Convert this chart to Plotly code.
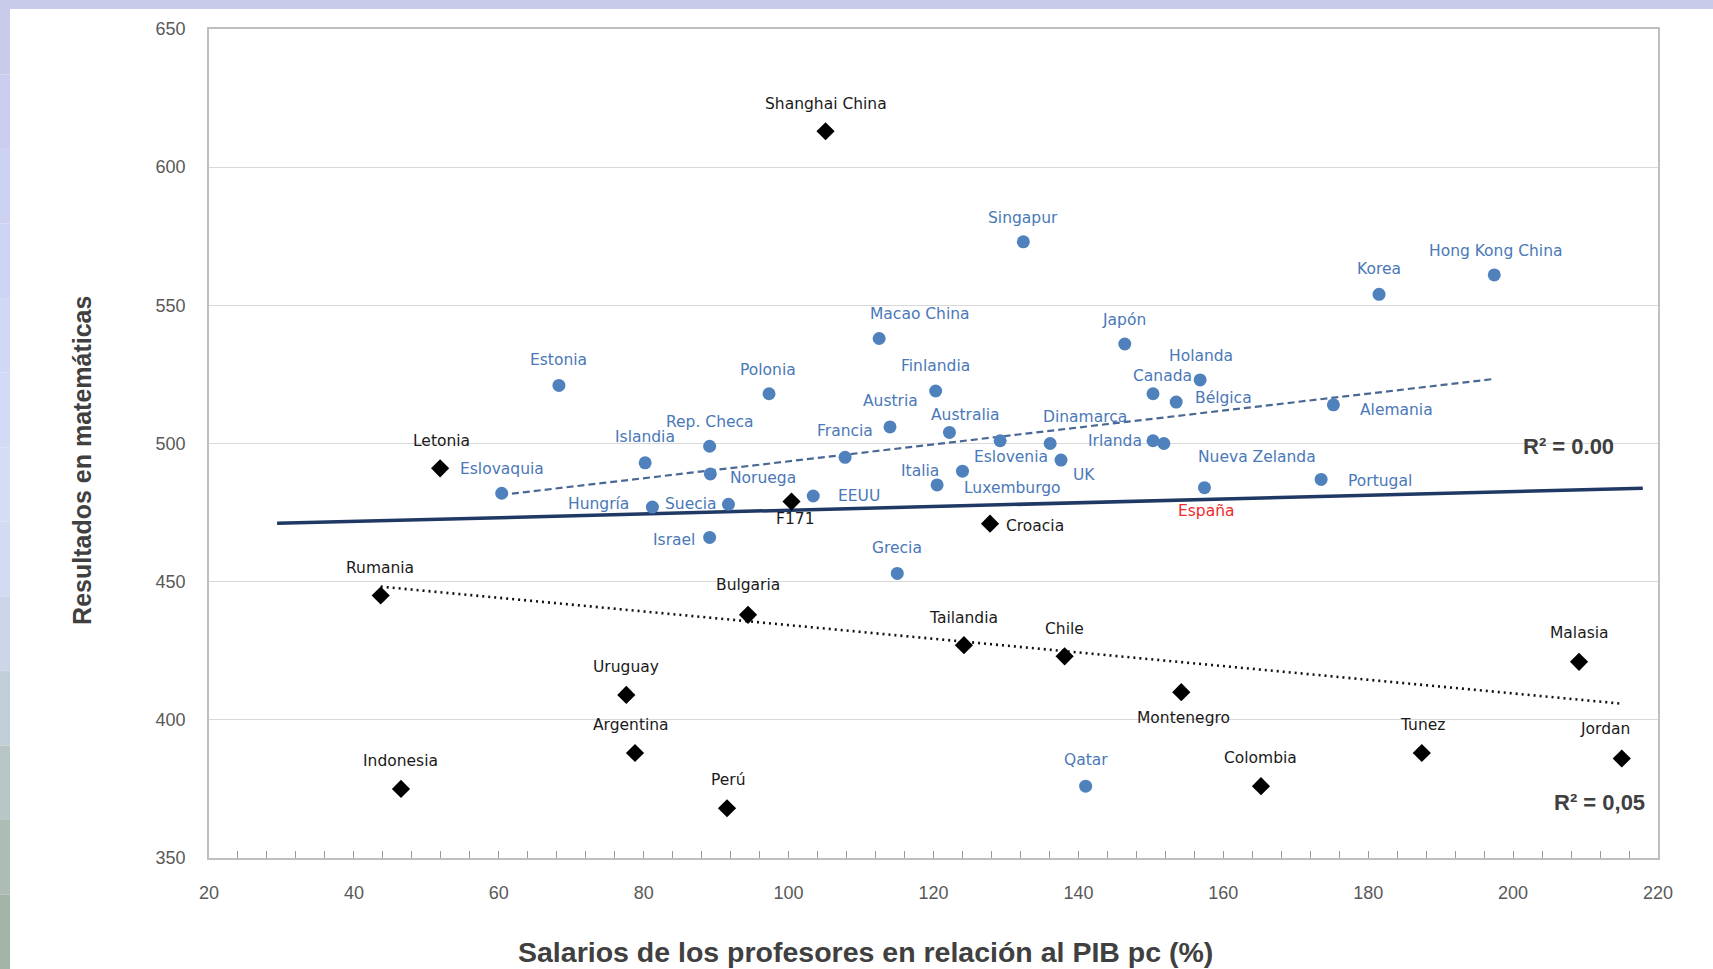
import plotly.graph_objects as go

# ---------------- data ----------------
oecd_names = ["Singapur", "Hong Kong China", "Korea", "Macao China", "Japón", "Holanda",
              "Canada", "Bélgica", "Alemania", "Estonia", "Polonia", "Finlandia", "Austria",
              "Australia", "Francia", "Rep. Checa", "Islandia", "Noruega", "Eslovaquia",
              "Hungría", "Suecia", "Israel", "EEUU", "Italia", "Luxemburgo", "Eslovenia",
              "Dinamarca", "UK", "Irlanda", "Nueva Zelanda", "España", "Portugal", "Grecia",
              "Qatar"]
oecd_x = [132.4, 197.4, 181.5, 112.5, 146.4, 156.8, 150.3, 153.5, 175.2, 68.3, 97.3, 120.3,
          114.0, 122.2, 107.8, 89.1, 80.2, 89.2, 60.4, 81.2, 91.7, 89.1, 103.4, 120.5,
          124.0, 129.2, 136.1, 137.6, 150.3, 151.8, 157.4, 173.5, 115.0, 141.0]
oecd_y = [573, 561, 554, 538, 536, 523, 518, 515, 514, 521, 518, 519, 506, 504, 495, 499,
          493, 489, 482, 477, 478, 466, 481, 485, 490, 501, 500, 494, 501, 500, 484, 487,
          453, 376]

partner_names = ["Shanghai China", "Letonia", "F171", "Croacia", "Rumania", "Bulgaria",
                 "Tailandia", "Chile", "Malasia", "Uruguay", "Montenegro", "Argentina",
                 "Tunez", "Jordan", "Indonesia", "Colombia", "Perú"]
partner_x = [105.1, 51.9, 100.4, 127.8, 43.7, 94.4, 124.2, 138.1, 209.1, 77.6, 154.2, 78.8,
             187.4, 215.0, 46.5, 165.2, 91.5]
partner_y = [613, 491, 479, 471, 445, 438, 427, 423, 421, 409, 410, 388, 388, 386, 375,
             376, 368]

# trend lines (end points)
trend_all_x = [29.4, 217.9]
trend_all_y = [471.1, 483.8]
trend_oecd_x = [60.3, 197.5]
trend_oecd_y = [481.4, 523.4]
trend_partner_x = [43.7, 215.2]
trend_partner_y = [448.2, 405.8]

r2_texts = ["R² = 0.00", "R² = 0,05"]

x_ticks = [20, 40, 60, 80, 100, 120, 140, 160, 180, 200, 220]
y_ticks = [350, 400, 450, 500, 550, 600, 650]

x_title = "Salarios de los profesores en relación al PIB pc (%)"
y_title = "Resultados en matemáticas"

# ---------------- styling / placement ----------------
W, H = 1713, 969
ML, MR, MT, MB = 209, 55, 29, 111
PW, PH = W - ML - MR, H - MT - MB
S = 1.0925  # label offsets below measured in a reduced view


def px2paper_x(px):
    return (px - ML) / PW


def px2paper_y(py):
    return (H - MB - py) / PH


# label offsets (dx, dy) relative to the marker, dy positive = downward
oecd_off = {
    "Singapur": (0, -22), "Hong Kong China": (1, -22), "Korea": (0, -23),
    "Macao China": (37, -22), "Japón": (-1, -22), "Holanda": (1, -22),
    "Canada": (9, -16), "Bélgica": (43, -4), "Alemania": (58, 5), "Estonia": (0, -23),
    "Polonia": (-1, -22), "Finlandia": (0, -23), "Austria": (0, -24),
    "Australia": (15, -16), "Francia": (0, -24), "Rep. Checa": (0, -22),
    "Islandia": (0, -24), "Noruega": (48, 4), "Eslovaquia": (0, -22),
    "Hungría": (-49, -3), "Suecia": (-34, 0), "Israel": (-33, 2), "EEUU": (42, 0),
    "Italia": (-16, -13), "Luxemburgo": (46, 15), "Eslovenia": (10, 15),
    "Dinamarca": (32, -24), "UK": (21, 14), "Irlanda": (-35, 0),
    "Nueva Zelanda": (85, 12), "España": (2, 21), "Portugal": (54, 1),
    "Grecia": (0, -23), "Qatar": (0, -24),
}
partner_off = {
    "Shanghai China": (0, -25), "Letonia": (1, -25), "F171": (4, 16),
    "Croacia": (41, 2), "Rumania": (-1, -25), "Bulgaria": (0, -27),
    "Tailandia": (0, -25), "Chile": (0, -25), "Malasia": (0, -26),
    "Uruguay": (0, -26), "Montenegro": (2, 24), "Argentina": (-4, -26),
    "Tunez": (1, -26), "Jordan": (-15, -27), "Indonesia": (0, -26),
    "Colombia": (0, -26), "Perú": (1, -26),
}

BLUE = "#4f81bd"
BLUE_TXT = "#4a78b8"
LABEL_FONT = "DejaVu Sans"
LABEL_SIZE = 15.5

fig = go.Figure()

# trend lines
fig.add_trace(go.Scatter(x=trend_all_x, y=trend_all_y, mode="lines",
                         line=dict(color="#1f3864", width=3.5), hoverinfo="skip",
                         showlegend=False))
fig.add_trace(go.Scatter(x=trend_oecd_x, y=trend_oecd_y, mode="lines",
                         line=dict(color="#4a6894", width=2.2, dash="7px,4px"),
                         hoverinfo="skip", showlegend=False))
fig.add_trace(go.Scatter(x=trend_partner_x, y=trend_partner_y, mode="lines",
                         line=dict(color="#111111", width=2.6, dash="2px,4px"),
                         hoverinfo="skip", showlegend=False))

# points
fig.add_trace(go.Scatter(x=oecd_x, y=oecd_y, mode="markers", text=oecd_names,
                         marker=dict(symbol="circle", size=13, color=BLUE),
                         showlegend=False))
fig.add_trace(go.Scatter(x=partner_x, y=partner_y, mode="markers", text=partner_names,
                         marker=dict(symbol="diamond", size=14, color="#000000"),
                         showlegend=False))

annotations = []
for n, x, y in zip(oecd_names, oecd_x, oecd_y):
    dx, dy = oecd_off[n]
    col = "#ee2b2b" if n == "España" else BLUE_TXT
    annotations.append(dict(x=x, y=y, xref="x", yref="y", text=n, showarrow=False,
                            xanchor="center", yanchor="middle",
                            xshift=dx * S, yshift=-dy * S,
                            font=dict(family=LABEL_FONT, size=LABEL_SIZE, color=col)))
for n, x, y in zip(partner_names, partner_x, partner_y):
    dx, dy = partner_off[n]
    annotations.append(dict(x=x, y=y, xref="x", yref="y", text=n, showarrow=False,
                            xanchor="center", yanchor="middle",
                            xshift=dx * S, yshift=-dy * S,
                            font=dict(family=LABEL_FONT, size=LABEL_SIZE, color="#1a1a1a")))


def paper_note(px, py, text, size, angle=0):
    return dict(x=px2paper_x(px * S), y=px2paper_y(py * S), xref="paper", yref="paper",
                text=text, showarrow=False, xanchor="center", yanchor="middle",
                textangle=angle,
                font=dict(family="Liberation Sans", size=size, color="#404040"))


annotations.append(paper_note(1436, 409, "<b>" + r2_texts[0] + "</b>", 22))
annotations.append(paper_note(1464, 735, "<b>" + r2_texts[1] + "</b>", 22))
annotations.append(paper_note(792, 871, "<b>" + x_title + "</b>", 28.5))
annotations.append(paper_note(75, 421, "<b>" + y_title + "</b>", 25, angle=-90))

# frame strips (top + left gradient)
shapes = [dict(type="rect", xref="paper", yref="paper", x0=px2paper_x(0), x1=px2paper_x(W),
               y0=px2paper_y(0), y1=px2paper_y(9), fillcolor="#c9cbea", line=dict(width=0),
               layer="below")]
left_cols = ["#c9cbea", "#cbcef0", "#cdd1f2", "#cfd4f4", "#d1d7f5", "#d3daf6", "#d4dcf6",
             "#d2dbf2", "#ccd6e8", "#c2cfd8", "#b8c6c6", "#adbcb4", "#a4b4a6"]
n_b = len(left_cols)
for i, c in enumerate(left_cols):
    shapes.append(dict(type="rect", xref="paper", yref="paper", x0=px2paper_x(0),
                       x1=px2paper_x(10), y0=px2paper_y(H * i / n_b),
                       y1=px2paper_y(H * (i + 1) / n_b), fillcolor=c, line=dict(width=0),
                       layer="below"))

fig.update_layout(
    width=W, height=H,
    margin=dict(l=ML, r=MR, t=MT, b=MB),
    paper_bgcolor="#ffffff", plot_bgcolor="#ffffff",
    annotations=annotations, shapes=shapes,
    showlegend=False,
    font=dict(family="Liberation Sans"),
)
fig.update_xaxes(range=[20, 220], tickvals=x_ticks, ticktext=[str(v) for v in x_ticks],
                 showgrid=False, zeroline=False, showline=True, linecolor="#bfbfbf",
                 linewidth=1.5, mirror=True, ticks="inside", ticklen=7, tickcolor="#9a9a9a",
                 minor=dict(dtick=4, tick0=20, ticks="inside", ticklen=7,
                            tickcolor="#9a9a9a", showgrid=False),
                 tickfont=dict(family="Liberation Sans", size=18, color="#595959"),
                 ticklabelstandoff=18)
fig.update_yaxes(range=[350, 650], tickvals=y_ticks, ticktext=[str(v) for v in y_ticks],
                 showgrid=True, gridcolor="#d9d9d9", gridwidth=1.2, zeroline=False,
                 showline=True, linecolor="#bfbfbf", linewidth=1.5, mirror=True,
                 ticks="", tickfont=dict(family="Liberation Sans", size=18, color="#595959"),
                 ticklabelstandoff=18)

fig.write_html("out.html", config={"displayModeBar": False},
               post_script="document.body.style.margin='0px';"
                           "document.body.style.overflow='hidden';")
